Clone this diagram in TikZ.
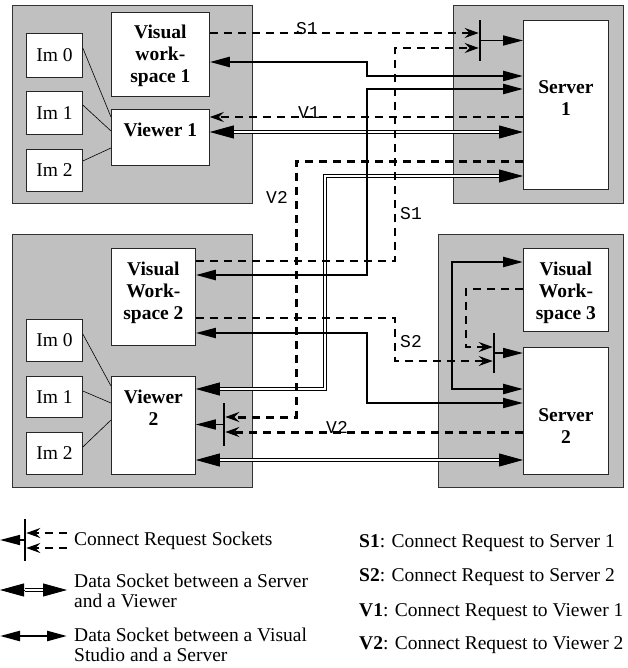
\documentclass[tikz,border=0pt]{standalone}
\usepackage{fontspec}
\setmainfont{Liberation Serif}
\setmonofont{Liberation Mono}
\usepackage{xcolor}
\usepackage{tikz}
\usetikzlibrary{positioning,arrows.meta}

\definecolor{panelgray}{RGB}{192,192,192}

\begin{document}
\begin{tikzpicture}[
    x=1pt, y=-1pt,
    node distance=14pt,
    panel/.style={rectangle, draw=black!80, fill=panelgray, line width=0.8pt, anchor=north west, inner sep=0pt},
    box/.style={rectangle, draw=black!85, fill=white, line width=0.8pt, anchor=north west, inner sep=0pt, font=\fontsize{19.5}{22}\selectfont},
    boxtext/.style={inner sep=0pt, align=center, font=\fontsize{19.5}{22}\selectfont\bfseries},
    sockbar/.style={rectangle, fill=black, minimum width=2.2pt, inner sep=0pt},
    req/.style={dash pattern=on 8pt off 6pt, line width=1.8pt, -{Stealth[length=14pt,width=10pt,inset=5pt]}},
    reqbold/.style={req, line width=3pt},
    vsock/.style={line width=2.4pt, {Triangle[length=20pt,width=10pt]}-{Triangle[length=20pt,width=10pt]}},
    feed/.style={line width=1.6pt, -{Triangle[length=20pt,width=10pt]}},
    dtips/.style={line width=0.8pt, {Triangle[length=24pt,width=13pt]}-{Triangle[length=24pt,width=13pt]}},
    dsock/.style={double, double distance=2pt, line width=0.8pt, shorten <=24.5pt, shorten >=24.5pt},
    imlink/.style={line width=0.6pt},
    reqlabel/.style={inner sep=0pt, anchor=base, font=\fontsize{18}{20}\ttfamily},
    legend/.style={inner sep=0pt, anchor=west, align=left, font=\fontsize{19.5}{20}\selectfont}
]
\useasboundingbox (0,0) rectangle (627,668);

% Panels
\node[panel, minimum width=240pt, minimum height=198pt] (pan1) at (12,5) {};
\node[panel, minimum width=170pt, minimum height=198pt] (pan2) at (453,5) {};
\node[panel, minimum width=240pt, minimum height=253pt] (pan3) at (12,234) {};
\node[panel, minimum width=185pt, minimum height=253pt] (pan4) at (438,234) {};

% Top left
\node[box, minimum width=98pt, minimum height=84pt] (vw1) at (111,12) {};
\node[boxtext, below=13pt of vw1.north] (vw1t) {Visual\\work-\\space 1};
\node[box, minimum width=98pt, minimum height=56pt] (view1) at (111,109) {};
\node[boxtext, below=of view1.north] (view1t) {Viewer 1};
\node[box, minimum width=56pt, minimum height=44pt] (ima0) at (26,33) {Im 0};
\node[box, minimum width=56pt, minimum height=43pt] (ima1) at (26,91) {Im 1};
\node[box, minimum width=56pt, minimum height=42pt] (ima2) at (26,149) {Im 2};

% Top right
\node[box, minimum width=85pt, minimum height=169pt] (srv1) at (523,20) {};
\node[boxtext, below=60pt of srv1.north] (srv1t) {Server\\1};

% Bottom left
\node[box, minimum width=84pt, minimum height=97pt] (vw2) at (111,248) {};
\node[boxtext, below=of vw2.north] (vw2t) {Visual\\Work-\\space 2};
\node[box, minimum width=84pt, minimum height=98pt] (view2) at (111,376) {};
\node[boxtext, below=of view2.north] (view2t) {Viewer\\2};
\node[box, minimum width=56pt, minimum height=42pt] (imb0) at (26,319) {Im 0};
\node[box, minimum width=56pt, minimum height=41pt] (imb1) at (26,376) {Im 1};
\node[box, minimum width=56pt, minimum height=42pt] (imb2) at (26,432) {Im 2};

% Bottom right
\node[box, minimum width=85pt, minimum height=83pt] (vw3) at (523,248) {};
\node[boxtext, below=of vw3.north] (vw3t) {Visual\\Work-\\space 3};
\node[box, minimum width=85pt, minimum height=127pt] (srv2) at (523,347) {};
\node[boxtext, below=61pt of srv2.north] (srv2t) {Server\\2};

% Socket bars
\node[sockbar, minimum height=41pt] (bar1) at (480,40.5) {};
\node[sockbar, minimum height=40pt] (bar2) at (494,353) {};
\node[sockbar, minimum height=43pt] (bar3) at (224,424.5) {};

% Image links
\draw[imlink] (ima0.east |- 0,48) -- (view1.west |- 0,117);
\draw[imlink] (ima1.east |- 0,105) -- (view1.west |- 0,131);
\draw[imlink] (ima2.east |- 0,161) -- (view1.west |- 0,148);
\draw[imlink] (imb0.east |- 0,334) -- (view2.west |- 0,386);
\draw[imlink] (imb1.east |- 0,391) -- (view2.west |- 0,403);
\draw[imlink] (imb2.east |- 0,447) -- (view2.west |- 0,420);

% Data sockets server <-> viewer (tips first, double line on top)
\draw[dtips] (view1.east |- 0,132) -- (srv1.west |- 0,132);
\draw[dsock] (view1.east |- 0,132) -- (srv1.west |- 0,132);
\draw[dtips] (srv1.west |- 0,176) -| (325,389) -- (view2.east |- 0,389);
\draw[dsock] (srv1.west |- 0,176) -| (325,389) -- (view2.east |- 0,389);
\draw[dtips] (view2.east |- 0,460) -- (srv2.west |- 0,460);
\draw[dsock] (view2.east |- 0,460) -- (srv2.west |- 0,460);

% Data sockets visual workspace <-> server
\draw[vsock] (vw1.east |- 0,62) -- (367,62) |- (srv1.west |- 0,76);
\draw[vsock] (vw2.east |- 0,275) -| (367,89) -- (srv1.west |- 0,89);
\draw[vsock, line width=1.8pt] (vw2.east |- 0,333) -| (367,403) -- (srv2.west |- 0,403);
\draw[vsock] (vw3.west |- 0,262) -| (452,389) -- (srv2.west |- 0,389);

% Connect requests
\draw[req] (vw1.east |- 0,33) -- (bar1.west |- 0,33);
\draw[req] (vw2.east |- 0,261) -| (395,48) -- (bar1.west |- 0,48);
\draw[req] (srv1.west |- 0,117) -- (view1.east |- 0,117);
\draw[reqbold] (srv1.west |- 0,162) -| (296,417) -- (bar3.east |- 0,417);
\draw[req] (vw2.east |- 0,318) -| (395,361) -- (bar2.west |- 0,361);
\draw[req] (vw3.west |- 0,289) -| (466,347) -- (bar2.west |- 0,347);
\draw[reqbold] (srv2.west |- 0,432) -- (bar3.east |- 0,432);

\draw[feed] (bar1) -- (srv1.west |- bar1);
\draw[feed] (bar2) -- (srv2.west |- bar2);
\draw[feed] (bar3) -- (view2.east |- bar3);

% Request labels
\node[reqlabel] (lbs1a) at (307,35) {S1};
\node[reqlabel] (lbv1) at (309,119) {V1};
\node[reqlabel] (lbv2a) at (277,204) {V2};
\node[reqlabel] (lbs1b) at (411,219) {S1};
\node[reqlabel] (lbs2) at (411,347) {S2};
\node[reqlabel] (lbv2b) at (337,433) {V2};

% Legend
\node[sockbar, minimum height=42pt] (bar4) at (25,540) {};
\coordinate (k0) at (0,540);
\coordinate (k1a) at (67,533);
\coordinate (k1b) at (67,548);
\coordinate (k2a) at (0,590);
\coordinate (k2b) at (67,590);
\coordinate (k3a) at (0,636);
\coordinate (k3b) at (67,636);

\draw[feed] (bar4) -- (k0);
\draw[req] (k1a) -- (bar4.east |- k1a);
\draw[req] (k1b) -- (bar4.east |- k1b);
\draw[dtips] (k2a) -- (k2b);
\draw[dsock] (k2a) -- (k2b);
\draw[vsock] (k3a) -- (k3b);

\node[legend] (key1) at (74,541) {Connect Request Sockets};
\node[legend] (key2) at (74,591) {Data Socket between a Server\\and a Viewer};
\node[legend] (key3) at (74,645) {Data Socket between a Visual\\Studio and a Server};

\node[legend] (keys1) at (359,543) {\textbf{S1}: Connect Request to Server 1};
\node[legend] (keys2) at (359,577) {\textbf{S2}: Connect Request to Server 2};
\node[legend] (keyv1) at (359,612) {\textbf{V1}: Connect Request to Viewer 1};
\node[legend] (keyv2) at (359,645) {\textbf{V2}: Connect Request to Viewer 2};

\end{tikzpicture}
\end{document}
